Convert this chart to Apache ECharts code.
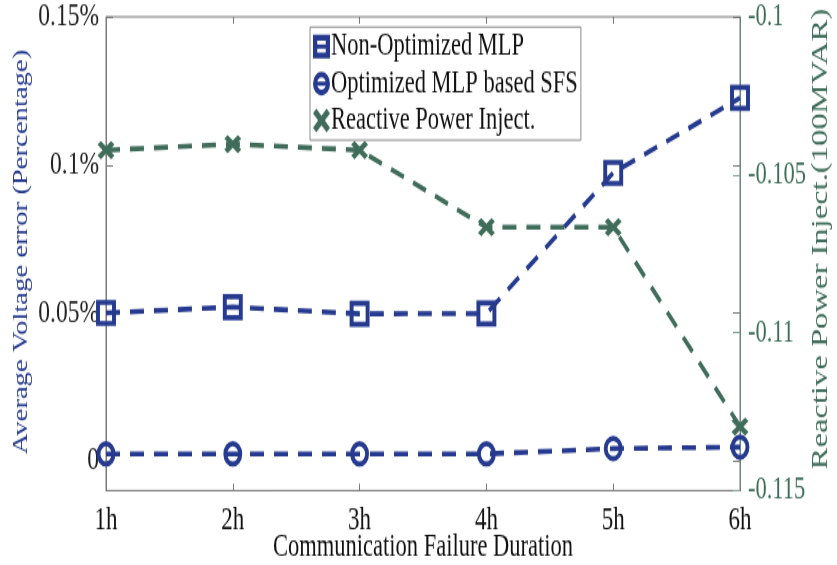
<!DOCTYPE html>
<html>
<head>
<meta charset="utf-8">
<style>
  html, body { margin: 0; padding: 0; background: #fff; width: 837px; height: 565px; }
  #wrap { position: relative; width: 837px; height: 565px; }
  /* The figure is drawn on a shorter canvas and stretched vertically,
     giving the tall, narrow lettering and oval markers of the printed plot. */
  #chart {
    position: absolute;
    left: 0; top: 0;
    width: 837px;
    height: 403.57px;
    transform: scale(1, 1.4);
    transform-origin: 0 0;
  }
</style>
<script src="https://cdn.jsdelivr.net/npm/echarts@6/dist/echarts.min.js"></script>
</head>
<body>
<div id="wrap"><div id="chart"></div></div>
<script>
// Failure durations on the x axis
const durations = ['1h', '2h', '3h', '4h', '5h', '6h'];

// Average voltage error, in percent (left axis)
const nonOptimizedMLP = [0.050, 0.052, 0.0497, 0.0498, 0.0973, 0.1226];
const optimizedSFS = [0.0024, 0.0024, 0.0024, 0.0024, 0.0042, 0.0047];

// Reactive power injection, in 100 MVAR (right axis)
const reactivePower = [-0.10422, -0.10403, -0.10422, -0.10666, -0.10666, -0.11297];

// Tick labels
const leftTicks = [0, 0.05, 0.1, 0.15];
const seriesNames = ['Non-Optimized MLP', 'Optimized MLP based SFS', 'Reactive Power Inject.'];

const STRETCH = 1.4;
const BLUE = '#263b8f';
const GREEN = '#3f6d5a';
const AXIS_GREY = '#7a7a7a';
const SERIF = '"Liberation Serif", "DejaVu Serif", serif';

const squareIcon = 'path://M0 0H10V10H0Z M2.5 2.5V7.5H7.5V2.5Z M2.5 4.1H7.5V5.9H2.5Z';
const circleIcon = 'path://M5 0A5 5 0 1 1 5 10A5 5 0 1 1 5 0Z M5 2.4A2.6 2.6 0 1 0 5 7.6A2.6 2.6 0 1 0 5 2.4Z M2.4 4.1H7.6V5.9H2.4Z';
const crossIcon = 'path://M2 0L5 3L8 0L10 2L7 5L10 8L8 10L5 7L2 10L0 8L3 5L0 2Z';

const chart = echarts.init(document.getElementById('chart'), null, { renderer: 'canvas' });

// y positions below are in the unstretched canvas (screen y / STRETCH)
const sy = v => v / STRETCH;
const dash = [14, 10];

chart.setOption({
  animation: false,
  backgroundColor: '#fff',
  textStyle: { fontFamily: SERIF },
  grid: {
    left: 106, right: 97, top: sy(16), bottom: sy(565 - 490),
    show: true, borderColor: AXIS_GREY, borderWidth: 1, backgroundColor: 'transparent'
  },
  legend: {
    orient: 'vertical',
    left: 310, top: sy(27),
    padding: [2, 3, 2, 3],
    itemGap: 2.4,
    itemWidth: 19, itemHeight: 17,
    backgroundColor: '#fff',
    borderColor: '#8a8a8a', borderWidth: 1,
    textStyle: { fontFamily: SERIF, fontSize: 22.5, lineHeight: 24, color: '#111', padding: [0, 0, 0, -5] },
    data: [
      { name: seriesNames[0], icon: squareIcon, itemStyle: { color: BLUE, borderWidth: 0 } },
      { name: seriesNames[1], icon: circleIcon, itemStyle: { color: BLUE, borderWidth: 0 } },
      { name: seriesNames[2], icon: crossIcon, itemStyle: { color: GREEN, borderWidth: 0 } }
    ]
  },
  xAxis: [{
    type: 'category',
    data: durations,
    boundaryGap: false,
    axisLine: { onZero: false, lineStyle: { color: AXIS_GREY, width: 1 } },
    axisTick: { inside: true, length: 5, lineStyle: { color: AXIS_GREY } },
    axisLabel: { fontFamily: SERIF, fontSize: 23, color: '#111', margin: 10 },
    splitLine: { show: false }
  }, {
    type: 'category',
    data: durations,
    boundaryGap: false,
    position: 'top',
    axisLine: { show: false, onZero: false },
    axisTick: { inside: true, length: 5, lineStyle: { color: AXIS_GREY } },
    axisLabel: { show: false },
    splitLine: { show: false }
  }],
  yAxis: [{
    type: 'value',
    min: -0.01, max: 0.15,
    position: 'left',
    axisLine: { show: true, onZero: false, lineStyle: { color: AXIS_GREY, width: 1 } },
    axisTick: { show: true, inside: true, length: 7, customValues: leftTicks, lineStyle: { color: AXIS_GREY } },
    axisLabel: {
      customValues: leftTicks,
      fontFamily: SERIF, fontSize: 23.5, color: '#222', margin: 7,
      formatter: v => (v === 0 ? '0' : parseFloat(v.toFixed(3)) + '%')
    },
    splitLine: { show: false }
  }, {
    type: 'value',
    min: -0.115, max: -0.1, interval: 0.005,
    position: 'right',
    axisLine: { show: true, onZero: false, lineStyle: { color: '#5f8a78', width: 1 } },
    axisTick: { show: true, inside: true, length: 7, lineStyle: { color: '#7fa595' } },
    axisLabel: {
      fontFamily: SERIF, fontSize: 22.5, color: GREEN, margin: 8,
      showMinLabel: true, showMaxLabel: true,
      formatter: v => String(parseFloat(v.toFixed(3)))
    },
    splitLine: { show: false }
  }, {
    // mirrored left-axis ticks on the right edge
    type: 'value',
    min: -0.01, max: 0.15,
    position: 'right',
    axisLine: { show: false, onZero: false },
    axisTick: { show: true, inside: true, length: 7, customValues: leftTicks, lineStyle: { color: AXIS_GREY } },
    axisLabel: { show: false },
    splitLine: { show: false }
  }],
  series: [{
    name: seriesNames[2],
    type: 'line',
    yAxisIndex: 1,
    data: reactivePower,
    symbol: crossIcon,
    symbolSize: [17, 13],
    itemStyle: { color: GREEN },
    lineStyle: { color: GREEN, width: 3.6, type: dash },
    z: 2
  }, {
    name: seriesNames[0],
    type: 'line',
    yAxisIndex: 0,
    data: nonOptimizedMLP,
    symbol: 'rect',
    symbolSize: [16, 15],
    itemStyle: { color: 'rgba(0,0,0,0)', borderColor: BLUE, borderWidth: 3.8 },
    lineStyle: { color: BLUE, width: 3.6, type: dash },
    z: 3
  }, {
    name: seriesNames[1],
    type: 'line',
    yAxisIndex: 0,
    data: optimizedSFS,
    symbol: 'circle',
    symbolSize: [15, 14.5],
    itemStyle: { color: 'rgba(0,0,0,0)', borderColor: BLUE, borderWidth: 3.8 },
    lineStyle: { color: BLUE, width: 3.6, type: dash },
    z: 3
  }],
  graphic: [{
    type: 'text',
    rotation: Math.PI / 2,
    x: 22, y: sy(252),
    style: {
      text: 'Average Voltage error (Percentage)',
      font: '20.5px ' + SERIF,
      fill: BLUE,
      align: 'center',
      verticalAlign: 'middle'
    }
  }, {
    type: 'text',
    rotation: Math.PI / 2,
    x: 821, y: sy(239),
    style: {
      text: 'Reactive Power Inject.(100MVAR)',
      font: '23.3px ' + SERIF,
      fill: GREEN,
      align: 'center',
      verticalAlign: 'middle'
    }
  }, {
    type: 'text',
    x: 423, y: sy(548),
    style: {
      text: 'Communication Failure Duration',
      font: '22.5px ' + SERIF,
      fill: '#111',
      align: 'center',
      verticalAlign: 'middle'
    }
  }]
});
</script>
</body>
</html>
